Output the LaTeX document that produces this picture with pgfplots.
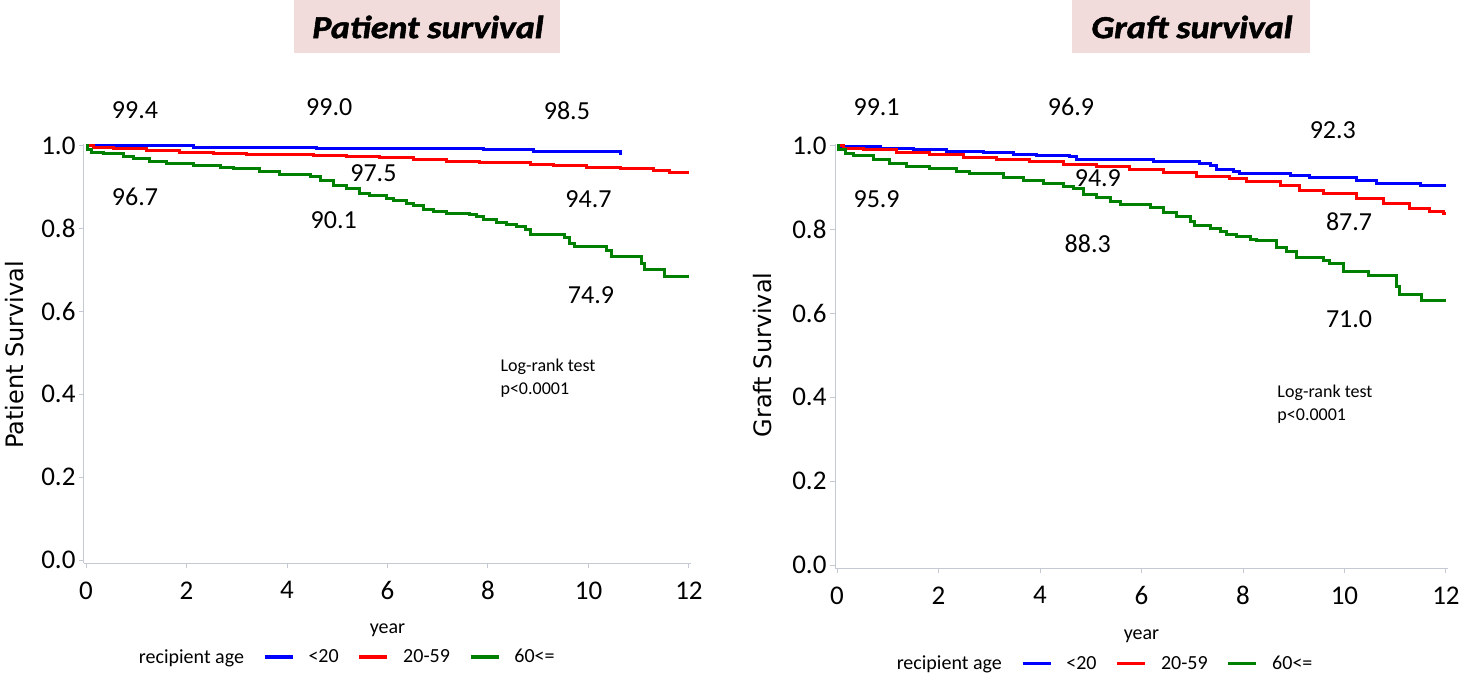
\documentclass[border=0pt]{standalone}
\usepackage{fontspec}
\setmainfont{Carlito}
\newfontfamily\dejavu{DejaVu Sans}
\newfontfamily\titlefont[FakeBold=1.6]{Carlito Bold Italic}
\usepackage{pgfplots}
\pgfplotsset{compat=1.18}
\definecolor{titlebg}{HTML}{F2DCDB}
\definecolor{axgray}{HTML}{C5C9D3}
\definecolor{kmblue}{HTML}{0000FF}
\definecolor{kmred}{HTML}{FF0000}
\definecolor{kmgreen}{HTML}{008000}
\pgfplotsset{km/.style={
  scale only axis, axis lines*=left,
  xmin=-0.04, xmax=12.04, ymin=-0.007, ymax=1.005,
  xtick={0,2,4,6,8,10,12}, xticklabels={0,2,4,6,8,10,12},
  ytick={0,0.2,0.4,0.6,0.8,1.0}, yticklabels={0.0,0.2,0.4,0.6,0.8,1.0},
  tick align=outside, major tick length=5pt,
  axis line style={draw=axgray, line width=1pt},
  tick style={draw=axgray, line width=1pt},
  ticklabel style={font=\fontsize{27}{30}\selectfont},
  xticklabel style={yshift=-10pt},
  clip=false,
  every axis plot/.append style={const plot, line width=3pt},
  xlabel style={font=\fontsize{20}{24}\selectfont},
  ylabel style={font=\dejavu\fontsize{24}{28}\selectfont},
  legend style={draw=none, fill=none, font=\fontsize{20}{24}\selectfont,
    legend columns=-1,
    /tikz/every odd column/.append style={column sep=12pt},
    /tikz/every even column/.append style={column sep=17pt}},
  legend image code/.code={\draw[line width=3.5pt] (0pt,0pt) -- (28pt,0pt);},
}}
\begin{document}
\begin{tikzpicture}
\path[use as bounding box] (0pt,0pt) rectangle (1460pt,673pt);
\fill[titlebg] (294pt,620pt) rectangle (560pt,673pt);
\node[font=\titlefont\fontsize{32}{36}\selectfont] at (428pt,646pt) {\scalebox{1.12}[1]{Patient survival}};
\fill[titlebg] (1072pt,620pt) rectangle (1310pt,673pt);
\node[font=\titlefont\fontsize{32}{36}\selectfont] at (1192pt,646pt) {\scalebox{1.12}[1]{Graft survival}};

\begin{axis}[km, at={(84pt,110pt)}, anchor=south west, width=607pt, height=419.4pt,
  xlabel={year}, ylabel={Patient Survival},
  xlabel style={at={(axis description cs:0.5,0)}, anchor=center, yshift=-67pt},
  ylabel style={at={(axis description cs:-0.114,0.496)}, anchor=center},
  legend style={at={(axis description cs:0.423,-0.224)}, anchor=center}]
\addlegendimage{empty legend}
\addplot[kmblue] coordinates {(0,1) (0.05,0.9995) (2.14,0.996) (4.59,0.993) (7.91,0.990) (8.90,0.9856) (10.64,0.982) (10.66,0.982)};
\addplot[kmred] coordinates {(0,1) (0.15,0.995) (0.54,0.992) (1.21,0.988) (1.87,0.984) (2.53,0.982) (3.20,0.979) (3.86,0.978) (4.52,0.976) (5.19,0.974) (5.85,0.972) (6.51,0.967) (7.18,0.963) (7.84,0.960) (8.84,0.955) (9.30,0.951) (9.96,0.948) (10.63,0.945) (11.29,0.939) (11.62,0.935) (12.0,0.935)};
\addplot[kmgreen] coordinates {(0,1) (0.03,0.990) (0.1,0.984) (0.34,0.980) (0.74,0.974) (0.94,0.970) (1.27,0.961) (1.61,0.957) (2.14,0.952) (2.67,0.948) (2.93,0.945) (3.46,0.937) (3.86,0.931) (4.46,0.925) (4.66,0.915) (4.92,0.905) (5.19,0.897) (5.45,0.885) (5.65,0.879) (5.98,0.873) (6.12,0.867) (6.38,0.860) (6.51,0.855) (6.71,0.846) (6.91,0.842) (7.18,0.836) (7.64,0.833) (7.77,0.829) (7.91,0.821) (8.17,0.815) (8.37,0.810) (8.57,0.805) (8.74,0.797) (8.84,0.786) (9.53,0.778) (9.63,0.764) (9.73,0.756) (10.36,0.748) (10.46,0.732) (11.06,0.716) (11.12,0.700) (11.52,0.685) (12.0,0.685)};
\legend{recipient age, <20, 20-59, 60<=}
\begin{scope}[font=\fontsize{26}{30}\selectfont]
\node at (axis cs:0.975,1.086) {99.4};
\node at (axis cs:4.84,1.093) {99.0};
\node at (axis cs:9.57,1.084) {98.5};
\node at (axis cs:5.72,0.933) {97.5};
\node at (axis cs:0.975,0.877) {96.7};
\node at (axis cs:4.93,0.821) {90.1};
\node at (axis cs:10.0,0.871) {94.7};
\node at (axis cs:10.05,0.640) {74.9};
\end{scope}
\node[anchor=west, font=\fontsize{18}{22}\selectfont] at (axis cs:8.18,0.466) {Log-rank test};
\node[anchor=west, font=\fontsize{18}{22}\selectfont] at (axis cs:8.18,0.410) {p<0.0001};
\end{axis}

\begin{axis}[km, at={(835pt,105pt)}, anchor=south west, width=613pt, height=424.4pt,
  xlabel={year}, ylabel={Graft Survival},
  xlabel style={at={(axis description cs:0.5,0)}, anchor=center, yshift=-68pt},
  ylabel style={at={(axis description cs:-0.119,0.502)}, anchor=center},
  legend style={at={(axis description cs:0.43,-0.225)}, anchor=center}]
\addlegendimage{empty legend}
\addplot[kmblue] coordinates {(0,1) (0.05,0.997) (0.85,0.994) (1.50,0.990) (2.16,0.987) (2.88,0.984) (3.47,0.980) (3.93,0.976) (4.59,0.974) (4.72,0.968) (5.25,0.966) (6.23,0.962) (7.15,0.958) (7.35,0.952) (7.48,0.944) (7.81,0.938) (7.94,0.934) (8.93,0.928) (9.32,0.924) (10.24,0.918) (10.63,0.910) (11.49,0.905) (12.0,0.905)};
\addplot[kmred] coordinates {(0,1) (0.12,0.994) (0.52,0.990) (1.18,0.984) (1.83,0.978) (2.49,0.973) (3.15,0.968) (3.80,0.963) (4.46,0.956) (5.12,0.950) (5.77,0.943) (6.43,0.937) (7.09,0.926) (7.74,0.921) (8.07,0.914) (8.73,0.906) (9.12,0.894) (9.58,0.886) (10.24,0.875) (10.76,0.863) (11.29,0.851) (11.68,0.844) (11.95,0.839) (12.0,0.839)};
\addplot[kmgreen] coordinates {(0,1) (0.03,0.990) (0.16,0.982) (0.32,0.976) (0.72,0.968) (1.04,0.958) (1.37,0.950) (1.83,0.946) (2.36,0.938) (2.62,0.934) (3.28,0.924) (3.67,0.916) (4.06,0.910) (4.46,0.902) (4.66,0.897) (4.85,0.884) (5.12,0.876) (5.38,0.866) (5.58,0.860) (6.17,0.852) (6.43,0.841) (6.69,0.831) (6.96,0.820) (7.05,0.809) (7.35,0.803) (7.55,0.795) (7.68,0.789) (7.88,0.783) (8.14,0.777) (8.27,0.773) (8.66,0.757) (8.86,0.747) (9.06,0.733) (9.58,0.727) (9.71,0.720) (9.98,0.701) (10.47,0.690) (11.03,0.664) (11.09,0.646) (11.52,0.630) (12.0,0.630)};
\legend{recipient age, <20, 20-59, 60<=}
\begin{scope}[font=\fontsize{26}{30}\selectfont]
\node at (axis cs:0.78,1.093) {99.1};
\node at (axis cs:4.61,1.093) {96.9};
\node at (axis cs:9.77,1.037) {92.3};
\node at (axis cs:5.14,0.922) {94.9};
\node at (axis cs:0.78,0.873) {95.9};
\node at (axis cs:4.94,0.767) {88.3};
\node at (axis cs:10.09,0.819) {87.7};
\node at (axis cs:10.09,0.586) {71.0};
\end{scope}
\node[anchor=west, font=\fontsize{18}{22}\selectfont] at (axis cs:8.61,0.411) {Log-rank test};
\node[anchor=west, font=\fontsize{18}{22}\selectfont] at (axis cs:8.61,0.355) {p<0.0001};
\end{axis}
\end{tikzpicture}
\end{document}
